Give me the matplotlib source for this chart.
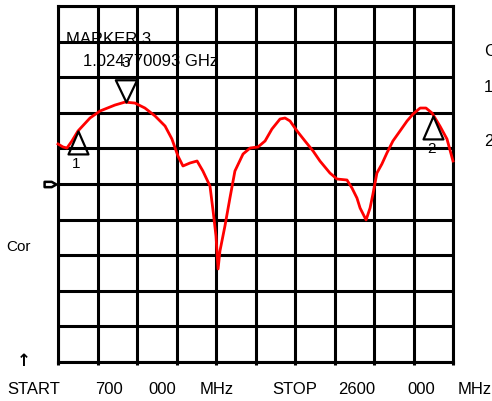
import numpy as np
import matplotlib
matplotlib.use("Agg")
import matplotlib.pyplot as plt
from matplotlib.path import Path
from matplotlib.transforms import Bbox, TransformedBbox

# ---- data ----
freq_mhz = [700, 724, 743, 767, 796, 854, 902, 974, 1022, 1070, 1118, 1167,
            1215, 1248, 1277, 1301, 1335, 1369, 1397, 1431, 1446, 1460, 1470,
            1479, 1503, 1527, 1551, 1590, 1624, 1662, 1696, 1729, 1768, 1792,
            1816, 1850, 1888, 1927, 1960, 2008, 2042, 2090, 2114, 2138, 2153,
            2182, 2201, 2215, 2234, 2258, 2282, 2311, 2345, 2379, 2408, 2442,
            2470, 2499, 2537, 2571, 2600]
level_db = [5.62, 5.2, 5.05, 6.04, 7.44, 9.27, 10.25, 11.09, 11.5, 11.37,
            10.67, 9.55, 8.14, 6.32, 3.93, 2.53, 2.95, 3.23, 1.82, -0.28,
            -3.79, -7.3, -11.93, -9.41, -5.9, -1.97, 1.82, 4.21, 5.05, 5.2,
            6.04, 7.72, 9.13, 9.27, 8.85, 7.44, 6.04, 4.63, 3.23, 1.54, 0.70,
            0.56, -0.56, -1.97, -3.37, -5.05, -3.37, -1.40, 1.54, 2.81, 4.35,
            6.04, 7.44, 8.85, 9.83, 10.67, 10.67, 9.97, 8.14, 6.32, 3.23]

marker_names = ["1", "2", "3"]
marker_freq = [796, 2504, 1024.770093]
marker_db = [7.44, 9.55, 11.5]

start_mhz = 700
stop_mhz = 2600
db_per_div = 5
ref_db = 0

W, H = 492, 401
fig = plt.figure(figsize=(W / 100, H / 100), dpi=100)
ax = fig.add_axes([58 / W, 1 - 362 / H, 395 / W, 356 / H])

def px(x, y):
    return (x / W, 1 - y / H)

ax.set_xlim(start_mhz, stop_mhz)
ax.set_ylim(ref_db - 5 * db_per_div, ref_db + 5 * db_per_div)
ax.set_xticks(np.linspace(start_mhz, stop_mhz, 11))
ax.set_yticks(np.linspace(ref_db - 5 * db_per_div, ref_db + 5 * db_per_div, 11))
ax.grid(True, color="black", lw=2.2, zorder=2)
for s in ax.spines.values():
    s.set_linewidth(2.2)
    s.set_zorder(2)
ax.tick_params(axis="x", length=2, width=2.2, direction="out",
               labelbottom=False)
ax.tick_params(axis="y", length=0, labelleft=False)
ax.set_axisbelow(False)

ax.plot(freq_mhz, level_db, color="#ff0000", lw=2.0, zorder=3, clip_on=False)

up_tri = Path([(0, 0), (-0.435, -1), (0.435, -1), (0, 0)],
              [Path.MOVETO, Path.LINETO, Path.LINETO, Path.CLOSEPOLY])
down_tri = Path([(0, 0), (-0.48, 1), (0.48, 1), (0, 0)],
                [Path.MOVETO, Path.LINETO, Path.LINETO, Path.CLOSEPOLY])

fs = 12
fam = ["Liberation Sans", "DejaVu Sans"]

for name, f, v in zip(marker_names, marker_freq, marker_db):
    if name == "3":
        ax.plot([f], [v], marker=down_tri, ms=32, mfc="none", mec="black",
                mew=1.6, zorder=4)
        ax.annotate(name, (f, v), xytext=(0, 23), textcoords="offset points",
                    ha="center", va="bottom", fontsize=fs - 1, family=fam)
    else:
        ax.plot([f], [v], marker=up_tri, ms=33, mfc="none", mec="black",
                mew=1.6, zorder=4)
        ax.annotate(name, (f, v), xytext=(-1, -19), textcoords="offset points",
                    ha="center", va="top", fontsize=fs - 1, family=fam)

# reference position marker on left
ref_marker = Path([(-1, 0.45), (0.2, 0.45), (1, 0), (0.2, -0.45), (-1, -0.45),
                   (-1, 0.45)],
                  [Path.MOVETO, Path.LINETO, Path.LINETO, Path.LINETO,
                   Path.LINETO, Path.CLOSEPOLY])
fig.lines.append(plt.Line2D([49.5 / W], [1 - 183.5 / H], marker=ref_marker,
                            ms=8.5, mfc="white", mec="black", mew=1.8,
                            transform=fig.transFigure))

fig.text(*px(66, 40), "MARKER 3", fontsize=fs, family=fam, va="center",
         ha="left", zorder=1)
fig.text(*px(83, 62), "1.024770093 GHz", fontsize=fs, family=fam,
         va="center", ha="left", zorder=1)

fig.text(*px(484, 51), "C", fontsize=fs, family=fam, va="center", ha="left")
fig.text(*px(484, 87), "1", fontsize=fs, family=fam, va="center", ha="left")
fig.text(*px(484, 142), "2", fontsize=fs, family=fam, va="center", ha="left")
fig.text(*px(6, 247), "Cor", fontsize=fs - 1, family=fam, va="center",
         ha="left")
fig.text(*px(24, 361), "\u2191", fontsize=12, family=["DejaVu Sans"],
         fontweight="bold", va="center", ha="center")

clip = TransformedBbox(Bbox([[0, 1 - 394 / H], [1, 1]]), fig.transFigure)
for x, s in [(7, "START"), (95, "700"), (148, "000"), (200, "MHz"),
             (272, "STOP"), (338, "2600"), (407, "000"), (458, "MHz")]:
    t = fig.text(*px(x, 382), s, fontsize=fs, family=fam, va="top", ha="left")
    t.set_clip_box(clip)
    t.set_clip_on(True)

fig.savefig("out.png", dpi=100)
